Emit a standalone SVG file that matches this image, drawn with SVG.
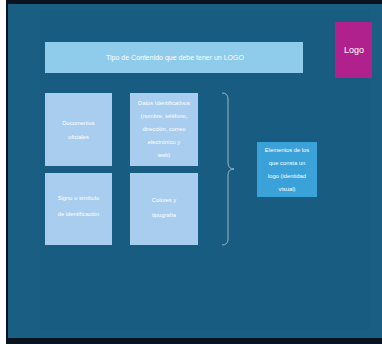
<svg xmlns="http://www.w3.org/2000/svg" width="382" height="344" viewBox="0 0 382 344">
<style>
.t{font-family:"Liberation Sans",Arial,sans-serif;fill:#ffffff;text-anchor:middle;font-size:5.8px}
.g{fill:#a9cdee}
</style>
<rect x="0" y="0" width="382" height="344" fill="#ffffff"/>
<rect x="6" y="0" width="376" height="344" fill="#0a1420"/>
<rect x="8" y="4" width="374" height="334" fill="#1a5e84"/>
<rect x="40" y="10" width="330" height="320" fill="#185c81"/>
<g id="title">
<rect x="45" y="42" width="258" height="31" fill="#8fcbeb"/>
<text class="t" x="175" y="60" style="font-size:7px">Tipo de Contenido que debe tener un LOGO</text>
</g>
<g id="logo">
<rect x="335" y="22" width="37" height="56" fill="#b1218e"/>
<text class="t" x="354" y="53" style="font-size:9px">Logo</text>
</g>
<g id="n1">
<rect class="g" x="45" y="93" width="67" height="73"/>
<text class="t" x="78.5" y="125">Documentos</text>
<text class="t" x="78.5" y="139">oficiales</text>
</g>
<g id="n2">
<rect class="g" x="130" y="93" width="68" height="73"/>
<text class="t" x="164" y="105">Datos Identificativos</text>
<text class="t" x="164" y="118">(nombre, teléfono,</text>
<text class="t" x="164" y="131">dirección, correo</text>
<text class="t" x="164" y="144">electrónico y</text>
<text class="t" x="164" y="157">web)</text>
</g>
<g id="n3">
<rect class="g" x="45" y="173" width="67" height="72"/>
<text class="t" x="78.5" y="200">Signo o símbolo</text>
<text class="t" x="78.5" y="216">de identificación</text>
</g>
<g id="n4">
<rect class="g" x="130" y="173" width="68" height="72"/>
<text class="t" x="164" y="202">Colores y</text>
<text class="t" x="164" y="217">tipografía</text>
</g>
<g id="connectors">
<path d="M222,93 Q228,93 228,99 L228,163 Q228,169 234,169 Q228,169 228,175 L228,239 Q228,245 222,245" fill="none" stroke="#9fb3c4" stroke-width="1"/>
</g>
<g id="summary">
<rect x="257" y="142" width="60" height="55" fill="#3ba1d9"/>
<text class="t" x="287" y="152">Elementos de los</text>
<text class="t" x="287" y="165">que consta un</text>
<text class="t" x="287" y="178">logo (identidad</text>
<text class="t" x="287" y="191">visual)</text>
</g>
</svg>
